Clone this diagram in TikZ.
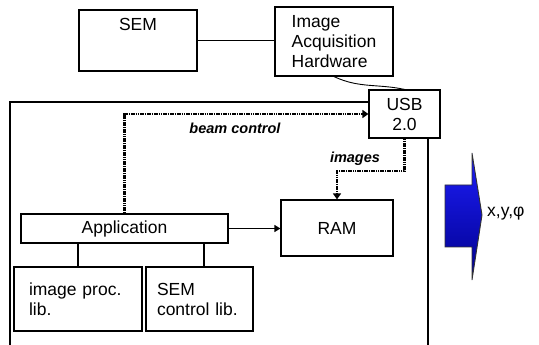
\documentclass[tikz,border=0pt]{standalone}
\usepackage{fontspec}
\setmainfont{Liberation Sans}
\usetikzlibrary{arrows.meta,calc}
\definecolor{arrtop}{RGB}{30,30,250}
\definecolor{arrbot}{RGB}{0,0,140}
\begin{document}
\begin{tikzpicture}[x=1pt,y=1pt,
  box/.style={draw, line width=1.2pt, rectangle, inner sep=0pt, font=\fontsize{17.5}{20}\selectfont},
  dots/.style={line width=2.8pt, dash pattern=on 1.6pt off 0.7pt},
  lbl/.style={font=\fontsize{14.5}{16}\selectfont\bfseries\itshape, inner sep=0pt},
  conn/.style={line width=1.1pt}]
\useasboundingbox (0,0) rectangle (539,345);
% nodes
\node[box, minimum width=118, minimum height=61,
  label={[anchor=north, inner sep=0pt, yshift=-9pt, font=\fontsize{17.5}{20}\selectfont]north:SEM}] (sem) at (138,304.5) {};
\node[box, minimum width=118, minimum height=69, align=left] (iah) at (334,303.5) {Image\\Acquisition\\Hardware};
\node[box, minimum width=71, minimum height=48, align=center] (usb) at (404.5,231) {USB\\2.0};
\node[box, minimum width=207, minimum height=29] (app) at (124.5,116.5) {Application};
\node[box, minimum width=112, minimum height=56] (ram) at (337,117) {RAM};
\node[box, minimum width=128, minimum height=64, text width=98, align=left] (imgproc) at (78,46) {image proc.\\lib.};
\node[box, minimum width=107, minimum height=64, text width=85, align=left] (semlib) at (199.5,46) {SEM\\control lib.};
% outer frame
\coordinate (lb) at (10,0);
\coordinate (tl) at (10,243);
\coordinate (rb) at (428,0);
\draw[conn] (lb) -- (tl) -- (tl -| usb.west);
\draw[conn] (usb.south -| rb) -- (rb);
% connectors
\draw[conn] (sem.east) -- (sem.east -| iah.west);
\draw[line width=0.9pt] (iah.south) to[out=-25, in=168] (usb.north);
\draw[dots, -{Triangle[length=6pt,width=8pt]}] (app.north) |- (usb.west);
\coordinate (bend) at (404.5,174);
\draw[dots, -{Triangle[length=6pt,width=8pt]}] (usb.south) -- (bend) -| (ram.north);
\draw[line width=1.4pt, -{Triangle[length=6pt,width=7pt]}] (app.east) -- (app.east -| ram.west);
\draw[conn] (app.south -| imgproc.north) -- (imgproc.north);
\coordinate (s2) at ($(semlib.north)+(4.5,0)$);
\draw[conn] (s2 |- app.south) -- (s2);
% labels
\node[lbl] (bc) at (235,217) {beam control};
\node[lbl] (im) at (355,186) {images};
% blue arrow
\shade[top color=arrtop, bottom color=arrbot, draw=black!80, line width=0.9pt]
  (445,160) -- (472,160) -- (472,192) -- (482,130) -- (472,65) -- (472,98) -- (445,98) -- cycle;
\node[anchor=west, inner sep=0pt, font=\fontsize{17.5}{20}\selectfont] (xyz) at (487,131) {x,y,φ};
\end{tikzpicture}
\end{document}
